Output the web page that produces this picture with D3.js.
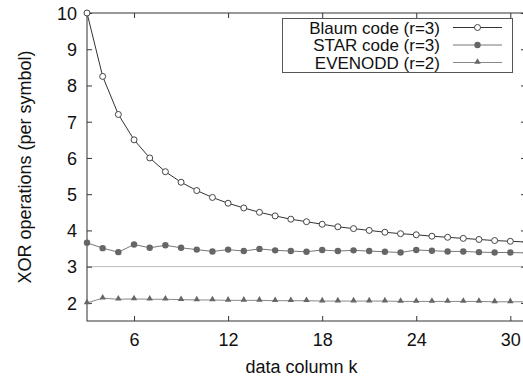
<!DOCTYPE html>
<html>
<head>
<meta charset="utf-8">
<script src="https://cdn.jsdelivr.net/npm/d3@7"></script>
<style>
  body { margin: 0; background: #fff; }
  svg { display: block; font-family: "Liberation Sans", Arial, sans-serif; }
</style>
</head>
<body>
<div id="chart"></div>
<script>
// data column k
const kValues = [3, 4, 5, 6, 7, 8, 9, 10, 11, 12, 13, 14, 15, 16, 17, 18, 19, 20, 21, 22, 23, 24, 25, 26, 27, 28, 29, 30, 31];

const blaum = [10, 8.25, 7.2, 6.5, 6.0, 5.62, 5.33, 5.1, 4.91, 4.75, 4.62, 4.5, 4.4, 4.31, 4.24, 4.17, 4.1, 4.05, 4.0, 3.95, 3.91, 3.88, 3.84, 3.81, 3.78, 3.75, 3.72, 3.7, 3.68];
const star = [3.66, 3.51, 3.40, 3.61, 3.52, 3.59, 3.52, 3.47, 3.42, 3.47, 3.43, 3.49, 3.45, 3.43, 3.41, 3.46, 3.43, 3.45, 3.43, 3.41, 3.39, 3.46, 3.44, 3.42, 3.42, 3.40, 3.39, 3.39, 3.38];
const evenodd = [2.0, 2.13, 2.1, 2.11, 2.1, 2.1, 2.09, 2.08, 2.08, 2.07, 2.07, 2.07, 2.06, 2.06, 2.06, 2.05, 2.05, 2.05, 2.05, 2.05, 2.04, 2.04, 2.04, 2.04, 2.04, 2.04, 2.03, 2.03, 2.03];

const xTicks = [6, 12, 18, 24, 30];
const yTicks = [2, 3, 4, 5, 6, 7, 8, 9, 10];
const refLine = 3;

const seriesNames = ['Blaum code (r=3)', 'STAR code (r=3)', 'EVENODD (r=2)'];

const W = 523, H = 381;
const margin = { left: 87, top: 13, right: -3, bottom: 60 };
const plotW = W - margin.left - margin.right;
const plotH = H - margin.top - margin.bottom;

const svg = d3.select('#chart')
  .append('svg')
  .attr('width', W)
  .attr('height', H);

const x = d3.scaleLinear().domain([3, 31]).range([margin.left, margin.left + plotW]);
const y = d3.scaleLinear().domain([1.5, 10]).range([margin.top + plotH, margin.top]);

const axisColor = '#333';

// reference line at 3
svg.append('line')
  .attr('x1', x(3)).attr('x2', x(31))
  .attr('y1', y(refLine)).attr('y2', y(refLine))
  .attr('stroke', '#bbb')
  .attr('stroke-width', 1);

// frame
svg.append('rect')
  .attr('x', x(3)).attr('y', y(10))
  .attr('width', x(31) - x(3))
  .attr('height', y(1.5) - y(10))
  .attr('fill', 'none')
  .attr('stroke', axisColor)
  .attr('stroke-width', 1);

// axes, ticks pointing inward on all four sides
const tickLen = 5;
const xAxis = d3.axisBottom(x).tickValues(xTicks).tickSize(-tickLen).tickPadding(12).tickFormat(d3.format('d'));
const gx = svg.append('g').attr('transform', `translate(0,${y(1.5)})`).call(xAxis);
const gxTop = svg.append('g').attr('transform', `translate(0,${y(10)})`)
  .call(d3.axisTop(x).tickValues(xTicks).tickSize(-tickLen).tickFormat(''));
const yAxis = d3.axisLeft(y).tickValues(yTicks).tickSize(-tickLen).tickPadding(10).tickFormat(d3.format('d'));
const gy = svg.append('g').attr('transform', `translate(${x(3)},0)`).call(yAxis);
const gyRight = svg.append('g').attr('transform', `translate(${x(31)},0)`)
  .call(d3.axisRight(y).tickValues(yTicks).tickSize(-tickLen).tickFormat(''));

[gx, gxTop, gy, gyRight].forEach(g => {
  g.select('.domain').remove();
  g.selectAll('line').attr('stroke', axisColor);
  g.selectAll('text')
    .attr('fill', '#111')
    .style('font-size', '18px')
    .style('font-family', '"Liberation Sans", Arial, sans-serif');
});
gy.selectAll('text').attr('dy', '0.35em');

// axis titles
svg.append('text')
  .attr('x', x(3) + (x(31) - x(3)) / 2 - 5)
  .attr('y', 373)
  .attr('text-anchor', 'middle')
  .attr('fill', '#111')
  .style('font-size', '18px')
  .text('data column k');

svg.append('text')
  .attr('transform', `translate(31,${(y(1.5) + y(10)) / 2}) rotate(-90)`)
  .attr('text-anchor', 'middle')
  .attr('fill', '#111')
  .style('font-size', '18px')
  .text('XOR operations (per symbol)');

// series
svg.append('clipPath').attr('id', 'plotclip')
  .append('rect')
  .attr('x', x(3) - 5).attr('y', y(10) - 5)
  .attr('width', x(31) - x(3) + 10).attr('height', y(1.5) - y(10) + 10);

const series = [
  { name: seriesNames[0], values: blaum, line: '#333', marker: 'open' },
  { name: seriesNames[1], values: star, line: '#777', marker: 'dot' },
  { name: seriesNames[2], values: evenodd, line: '#888', marker: 'tri' }
];

const line = d3.line()
  .x((d, i) => x(kValues[i]))
  .y(d => y(d));

const triangle = d3.symbol().type(d3.symbolTriangle).size(18);

function drawMarker(g, s, cx, cy) {
  if (s.marker === 'open') {
    g.append('circle').attr('cx', cx).attr('cy', cy).attr('r', 3)
      .attr('fill', '#fff').attr('stroke', '#444').attr('stroke-width', 1);
  } else if (s.marker === 'dot') {
    g.append('circle').attr('cx', cx).attr('cy', cy).attr('r', 3.2)
      .attr('fill', '#666');
  } else {
    g.append('path').attr('d', triangle())
      .attr('transform', `translate(${cx},${cy - 0.5})`)
      .attr('fill', '#666');
  }
}

const plotG = svg.append('g').attr('clip-path', 'url(#plotclip)');
series.forEach(s => {
  plotG.append('path')
    .datum(s.values)
    .attr('fill', 'none')
    .attr('stroke', s.line)
    .attr('stroke-width', 1)
    .attr('d', line);
  s.values.forEach((v, i) => drawMarker(plotG, s, x(kValues[i]), y(v)));
});

// legend
const legend = svg.append('g');
legend.append('rect')
  .attr('x', 282.5).attr('y', 18.5)
  .attr('width', 230).attr('height', 54)
  .attr('fill', '#fff')
  .attr('stroke', '#555')
  .attr('stroke-width', 1);

series.forEach((s, i) => {
  const cy = 27.5 + i * 17.5;
  legend.append('text')
    .attr('x', 440)
    .attr('y', cy)
    .attr('dy', '0.36em')
    .attr('text-anchor', 'end')
    .attr('fill', '#111')
    .style('font-size', '17px')
    .text(s.name);
  legend.append('line')
    .attr('x1', 453).attr('x2', 502)
    .attr('y1', cy).attr('y2', cy)
    .attr('stroke', s.line)
    .attr('stroke-width', 1);
  drawMarker(legend, { marker: s.marker }, 477.5, cy);
});
</script>
</body>
</html>
